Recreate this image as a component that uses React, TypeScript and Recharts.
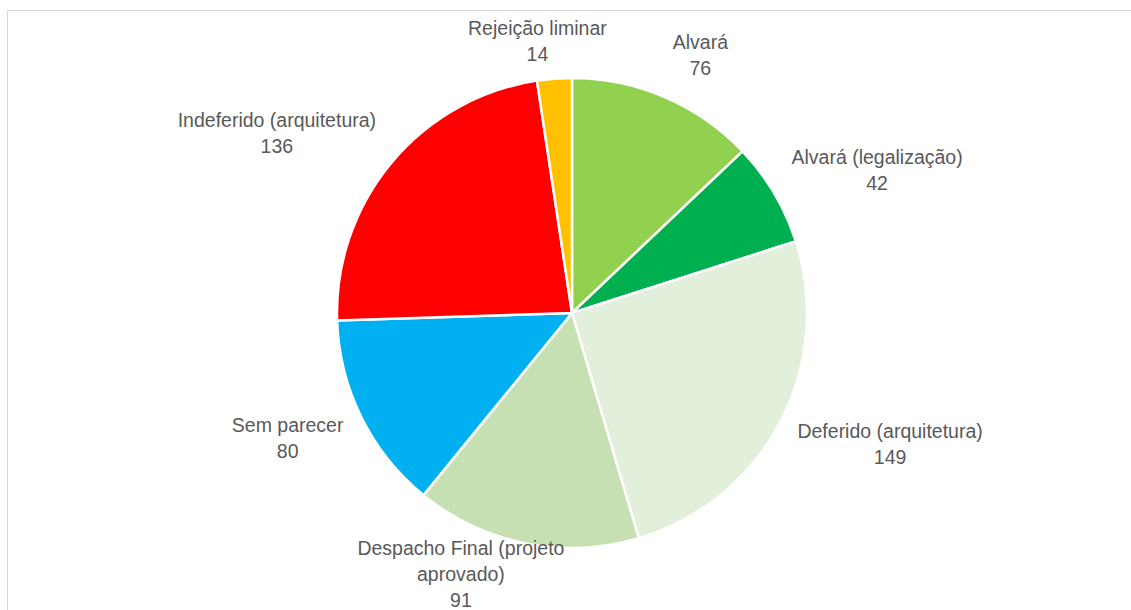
import React from 'react';
import { PieChart, Pie, Cell } from 'recharts';

const categories = [
  'Alvará',
  'Alvará (legalização)',
  'Deferido (arquitetura)',
  'Despacho Final (projeto aprovado)',
  'Sem parecer',
  'Indeferido (arquitetura)',
  'Rejeição liminar',
];
const values = [76, 42, 149, 91, 80, 136, 14];
const colors = ['#92D050', '#00B050', '#E2EFDA', '#C6E0B4', '#00B0F0', '#FF0000', '#FFC000'];

const data = categories.map((name, i) => ({ name, value: values[i] }));

const FONT_SIZE = 19.5;
const FONT_FAMILY = '"Liberation Sans", Arial, sans-serif';
const LINE_H = 26;
const WIDTH = 1131;
const HEIGHT = 610;

let ctx: CanvasRenderingContext2D | null = null;
function measure(s: string): number {
  if (!ctx && typeof document !== 'undefined') {
    const c = document.createElement('canvas');
    ctx = c.getContext('2d');
  }
  if (ctx) {
    ctx.font = `${FONT_SIZE}px ${FONT_FAMILY}`;
    return ctx.measureText(s).width;
  }
  return s.length * FONT_SIZE * 0.5;
}

function wrap(s: string, max: number): string[] {
  const words = s.split(' ');
  const out: string[] = [];
  let cur = '';
  for (const w of words) {
    const t = cur ? cur + ' ' + w : w;
    if (cur && measure(t) > max) {
      out.push(cur);
      cur = w;
    } else {
      cur = t;
    }
  }
  if (cur) out.push(cur);
  return out;
}

const renderLabel = (props: any) => {
  const { cx, cy, midAngle, outerRadius, name, value } = props;
  const rad = (midAngle * Math.PI) / 180;
  const ux = Math.cos(rad);
  const uy = -Math.sin(rad);
  const lines = [...wrap(String(name), 215), String(value)];
  const w = Math.max(...lines.map(measure));
  const h = lines.length * LINE_H;
  const R = outerRadius + 20;
  const fx = Math.max(-1, Math.min(1, ux * 3));
  const x = cx + R * ux + (fx * w) / 2;
  let y = cy + R * uy + (uy * h) / 2;
  y = Math.max(15 + h / 2, Math.min(HEIGHT + 3 - h / 2, y));
  const top = y - h / 2;
  return (
    <text
      x={x}
      y={top}
      textAnchor="middle"
      fill="#595959"
      style={{ fontFamily: FONT_FAMILY, fontSize: FONT_SIZE }}
    >
      {lines.map((l, i) => (
        <tspan key={i} x={x} y={top + LINE_H / 2 + i * LINE_H} dominantBaseline="central">
          {l}
        </tspan>
      ))}
    </text>
  );
};

export default function App() {
  return (
    <div
      style={{
        position: 'absolute',
        left: 0,
        top: 0,
        width: WIDTH,
        height: HEIGHT,
        overflow: 'hidden',
        background: '#ffffff',
      }}
    >
      <div
        style={{
          position: 'absolute',
          left: 7,
          top: 10,
          width: 1140,
          height: 700,
          border: '1.5px solid #d9d9d9',
          boxSizing: 'border-box',
        }}
      />
      <div style={{ position: 'absolute', left: 0, top: 0 }}>
        <PieChart width={WIDTH} height={HEIGHT} margin={{ top: 0, right: 0, bottom: 0, left: 0 }}>
          <Pie
            data={data}
            dataKey="value"
            nameKey="name"
            cx={572}
            cy={313}
            outerRadius={235}
            startAngle={90}
            endAngle={-270}
            stroke="#ffffff"
            strokeWidth={2.5}
            labelLine={false}
            label={renderLabel}
            isAnimationActive={false}
          >
            {data.map((d, i) => (
              <Cell key={d.name} fill={colors[i]} />
            ))}
          </Pie>
        </PieChart>
      </div>
    </div>
  );
}
